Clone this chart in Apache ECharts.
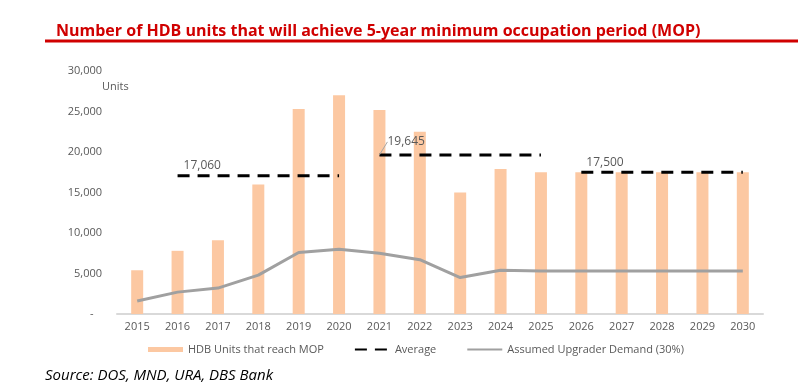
<!DOCTYPE html>
<html><head><meta charset="utf-8">
<script src="https://cdn.jsdelivr.net/npm/echarts@6/dist/echarts.min.js"></script>
<style>html,body{margin:0;padding:0;background:#fff}#c{width:798px;height:390px}</style>
</head><body><div id="c"></div>
<script>
const years = ['2015','2016','2017','2018','2019','2020','2021','2022','2023','2024','2025','2026','2027','2028','2029','2030'];
const mopUnits = [5400, 7800, 9100, 16000, 25300, 27000, 25200, 22500, 15000, 17900, 17500, 17500, 17500, 17500, 17500, 17500];
const upgraderDemand = [1600, 2700, 3200, 4800, 7600, 8000, 7500, 6700, 4500, 5400, 5300, 5300, 5300, 5300, 5300, 5300];
const avg1 = [null, 17060, 17060, 17060, 17060, 17060, null, null, null, null, null, null, null, null, null, null];
const avg2 = [null, null, null, null, null, null, 19645, 19645, 19645, 19645, 19645, null, null, null, null, null];
const avg3 = [null, null, null, null, null, null, null, null, null, null, null, 17500, 17500, 17500, 17500, 17500];
const yTicks = [0, 5000, 10000, 15000, 20000, 25000, 30000];
const yTickLabels = ['-   ', '5,000', '10,000', '15,000', '20,000', '25,000', '30,000'];

const FONT = '"Open Sans", "Noto Sans", sans-serif';
const GREY = '#595959';

function withFirstLabel(arr, lbl) {
  let done = false;
  return arr.map(v => {
    if (v !== null && !done) { done = true; return Object.assign({value: v}, lbl); }
    return v;
  });
}

const avgStyle = {color: '#000', width: 3, type: [12, 8], cap: 'butt'};
const avgLabel = {show: true, color: GREY, fontSize: 12, fontFamily: FONT, formatter: p => p.value.toLocaleString('en-US')};

const chart = echarts.init(document.getElementById('c'), null, {renderer: 'canvas'});
chart.setOption({
  animation: false,
  title: [
    {text: 'Number of HDB units that will achieve 5-year minimum occupation period (MOP)', left: 51, top: 18,
     textStyle: {color: '#d00000', fontSize: 16, fontWeight: 'bold', fontFamily: FONT}},
    {text: 'Units', left: 97, top: 76, textStyle: {color: GREY, fontSize: 11, fontWeight: 'normal', fontFamily: FONT}},
    {text: 'Source: DOS, MND, URA, DBS Bank', left: 40, top: 363,
     textStyle: {color: '#000', fontSize: 15, fontStyle: 'italic', fontWeight: 'normal', fontFamily: FONT}}
  ],
  graphic: [{type: 'line', shape: {x1: 45, y1: 41, x2: 798, y2: 41}, style: {stroke: '#d00000', lineWidth: 3}}],
  grid: {left: 117, right: 35, top: 71, bottom: 76},
  legend: {
    left: 143, top: 339, itemWidth: 35, itemHeight: 5, itemGap: 30,
    textStyle: {color: GREY, fontSize: 11, fontFamily: FONT},
    data: [
      {name: 'HDB Units that reach MOP', icon: 'rect'},
      {name: 'Average', itemStyle: {opacity: 0}},
      {name: 'Assumed Upgrader Demand (30%)', itemStyle: {opacity: 0}}
    ]
  },
  xAxis: {
    type: 'category', data: years,
    axisLine: {lineStyle: {color: '#d9d9d9', width: 2}},
    axisTick: {show: false},
    axisLabel: {color: GREY, fontSize: 11, fontFamily: FONT, margin: 7}
  },
  yAxis: {
    type: 'value', min: 0, max: 30000, interval: 5000,
    splitLine: {show: false}, axisLine: {show: false}, axisTick: {show: false},
    axisLabel: {color: GREY, fontSize: 11, fontFamily: FONT, margin: 15,
      formatter: v => yTickLabels[yTicks.indexOf(v)]}
  },
  series: [
    {name: 'HDB Units that reach MOP', type: 'bar', data: mopUnits, barWidth: 12,
     itemStyle: {color: '#fcc8a2'}},
    {name: 'Average', type: 'line', data: withFirstLabel(avg1, {label: Object.assign({}, avgLabel, {position: 'top', align: 'left', offset: [6, 1]})}),
     symbol: 'circle', symbolSize: 0, showSymbol: true, lineStyle: avgStyle, itemStyle: {color: '#000'}, z: 5},
    {name: 'Average', type: 'line', data: withFirstLabel(avg2, {label: Object.assign({}, avgLabel, {position: 'top', align: 'left'})}),
     symbol: 'circle', symbolSize: 0, showSymbol: true, lineStyle: avgStyle, itemStyle: {color: '#000'},
     labelLayout: {dx: 8, dy: -2},
     labelLine: {show: true, lineStyle: {color: '#a6a6a6', width: 1}}, z: 5},
    {name: 'Average', type: 'line', data: withFirstLabel(avg3, {label: Object.assign({}, avgLabel, {position: 'top', align: 'left', offset: [5, 1]})}),
     symbol: 'circle', symbolSize: 0, showSymbol: true, lineStyle: avgStyle, itemStyle: {color: '#000'}, z: 5},
    {name: 'Assumed Upgrader Demand (30%)', type: 'line', data: upgraderDemand, symbol: 'none',
     lineStyle: {color: '#a0a0a0', width: 3}, itemStyle: {color: '#a0a0a0'}, z: 4}
  ]
});
</script></body></html>
